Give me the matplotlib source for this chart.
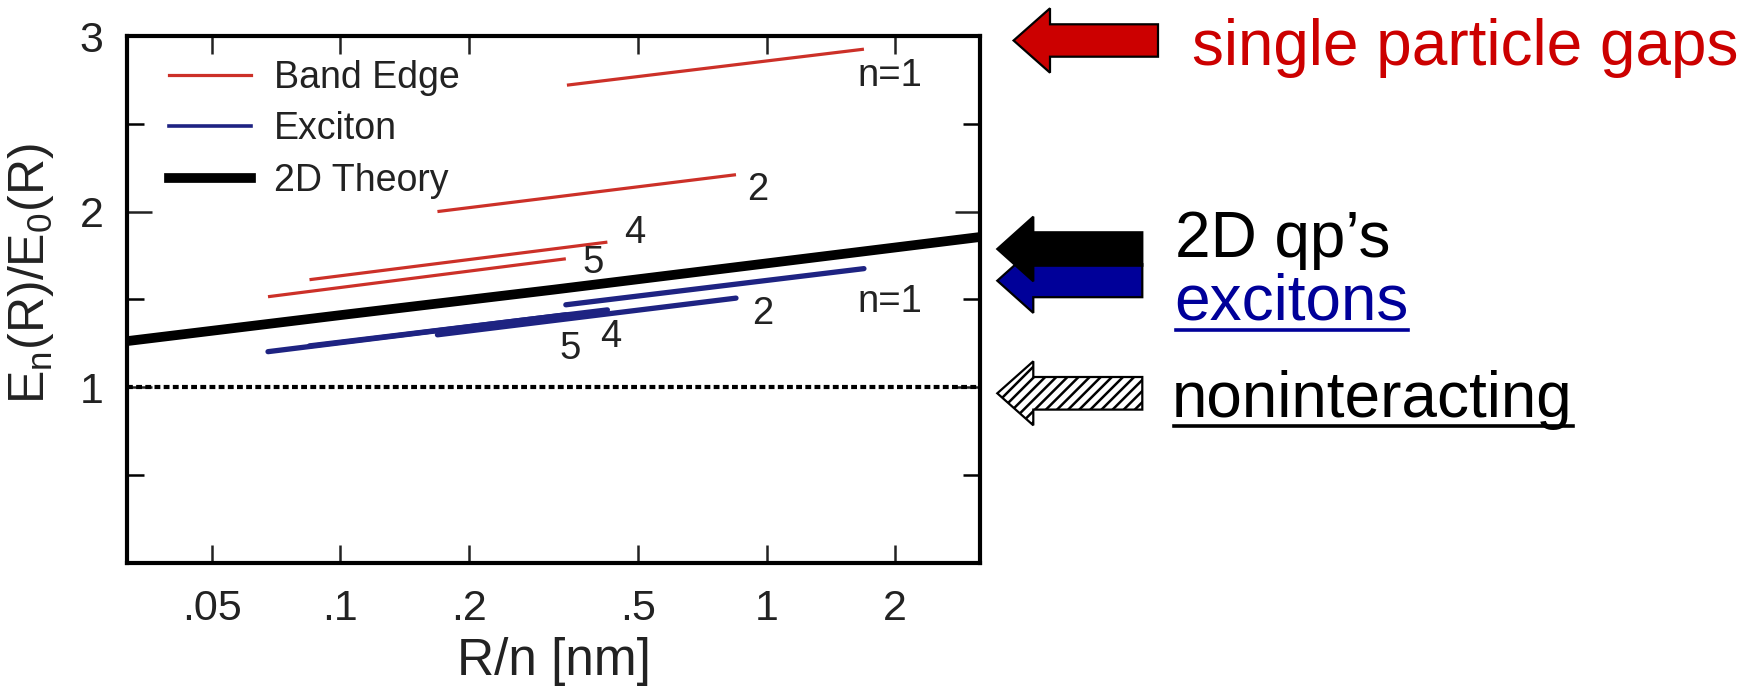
import matplotlib
matplotlib.use("Agg")
import matplotlib.pyplot as plt
from matplotlib.patches import Polygon
from matplotlib.lines import Line2D

plt.rcParams['font.family'] = ['Liberation Sans', 'DejaVu Sans']
plt.rcParams['hatch.linewidth'] = 1.8

# ---------------- data ----------------
band_n1_x = [0.34, 1.69];    band_n1_y = [2.72, 2.925]
band_n2_x = [0.169, 0.847];  band_n2_y = [2.00, 2.21]
band_n4_x = [0.0847, 0.423]; band_n4_y = [1.612, 1.826]
band_n5_x = [0.0677, 0.338]; band_n5_y = [1.515, 1.731]

exc_n1_x = [0.338, 1.69];    exc_n1_y = [1.469, 1.675]
exc_n2_x = [0.169, 0.847];   exc_n2_y = [1.298, 1.507]
exc_n4_x = [0.0847, 0.423];  exc_n4_y = [1.235, 1.44]
exc_n5_x = [0.0677, 0.338];  exc_n5_y = [1.202, 1.412]

theory_x = [0.0316, 0.1, 0.316, 1.0, 3.16]
theory_y = [1.262, 1.41, 1.555, 1.705, 1.855]

nonint_y = 1.0

xtick_vals = [0.05, 0.1, 0.2, 0.5, 1, 2]
xtick_labels = ['.05', '.1', '.2', '.5', '1', '2']
ytick_major = [1, 2, 3]
ytick_minor = [0, 0.5, 1.5, 2.5]

RED = '#cc3028'
BLUE = '#1e2382'
TXT = '#222222'

W, H = 1760, 694
fig = plt.figure(figsize=(W / 100, H / 100), dpi=100)
ax = fig.add_axes([127 / W, 1 - 562.7 / H, (980 - 127) / W, (562.7 - 36) / H])

ax.set_xscale('log')
ax.set_xlim(10 ** -1.5, 10 ** 0.5)
ax.set_ylim(0, 3)

# lines
for xs, ys in [(band_n1_x, band_n1_y), (band_n2_x, band_n2_y),
               (band_n4_x, band_n4_y), (band_n5_x, band_n5_y)]:
    ax.plot(xs, ys, color=RED, lw=2.3, solid_capstyle='butt')
for xs, ys in [(exc_n5_x, exc_n5_y), (exc_n4_x, exc_n4_y),
               (exc_n2_x, exc_n2_y), (exc_n1_x, exc_n1_y)]:
    ax.plot(xs, ys, color=BLUE, lw=3.8, solid_capstyle='round')
ax.plot(theory_x, theory_y, color='black', lw=7, solid_capstyle='butt')
ax.axhline(nonint_y, color='black', lw=3, dashes=(1.4, 0.8))

# labels next to line ends (offsets in pixels)
lab_fs = 27.5
def lab(txt, x, y, dx, dy):
    ax.annotate(txt, (x, y), xytext=(dx, dy), textcoords='offset pixels',
                ha='center', va='center', fontsize=lab_fs, color=TXT)

lab('n=1', band_n1_x[-1], band_n1_y[-1], 26, -27)
lab('2', band_n2_x[-1], band_n2_y[-1], 22, -15)
lab('4', band_n4_x[-1], band_n4_y[-1], 27, 9)
lab('5', band_n5_x[-1], band_n5_y[-1], 27, -4)
lab('n=1', exc_n1_x[-1], exc_n1_y[-1], 26, -33)
lab('2', exc_n2_x[-1], exc_n2_y[-1], 27, -16)
lab('4', exc_n4_x[-1], exc_n4_y[-1], 3, -27)
lab('5', exc_n5_x[-1], exc_n5_y[-1], 4, -34)

# axes styling
for s in ax.spines.values():
    s.set_linewidth(3)
ax.set_xticks(xtick_vals)
ax.set_xticklabels(xtick_labels)
ax.xaxis.set_minor_locator(matplotlib.ticker.NullLocator())
ax.set_yticks(ytick_major)
ax.set_yticks(ytick_minor, minor=True)
ax.set_yticklabels([str(v) for v in ytick_major])
ax.tick_params(axis='x', which='major', direction='in', length=13, width=1.8,
               top=True, labelsize=31, pad=19, colors=TXT)
ax.tick_params(axis='y', which='major', direction='in', length=18, width=1.8,
               right=True, labelsize=31, pad=17, colors=TXT)
ax.tick_params(axis='y', which='minor', direction='in', length=12, width=1.8,
               right=True)

ax.set_xlabel('R/n [nm]', fontsize=37, color=TXT)
ax.xaxis.set_label_coords(0.5, -0.142)
ax.set_ylabel(r'$\mathregular{E_n(R)/E_0(R)}$', fontsize=36, color=TXT)
ax.yaxis.set_label_coords(-0.083, 0.548)

handles = [Line2D([], [], color=RED, lw=2.3),
           Line2D([], [], color=BLUE, lw=2.6),
           Line2D([], [], color='black', lw=7)]
ax.legend(handles, ['Band Edge', 'Exciton', '2D Theory'], loc='upper left',
          bbox_to_anchor=(0.049, 0.955), frameon=False, fontsize=27,
          handlelength=2.2, handletextpad=0.6, labelspacing=0.42,
          borderpad=0, borderaxespad=0, labelcolor=TXT)

# ---------------- right-hand annotations ----------------
def fx(x):
    return x / W
def fy(y):
    return 1 - y / H

def arrow(tip_x, cy, head_back, head_half, body_half, right_x, **kw):
    pts = [(tip_x, cy), (head_back, cy - head_half), (head_back, cy - body_half),
           (right_x, cy - body_half), (right_x, cy + body_half),
           (head_back, cy + body_half), (head_back, cy + head_half)]
    poly = Polygon([(fx(a), fy(b)) for a, b in pts], closed=True,
                   transform=fig.transFigure, lw=1.6, joinstyle='miter', **kw)
    fig.add_artist(poly)

arrow(1013.6, 40.5, 1050, 32.2, 16.2, 1158, facecolor='#cc0000', edgecolor='black')
arrow(997.3, 280.7, 1033.3, 32.2, 16.5, 1142.3, facecolor='#000099', edgecolor='black')
arrow(997.3, 249, 1033.3, 32.3, 16.7, 1142.3, facecolor='black', edgecolor='black')
arrow(997.3, 393.3, 1033.3, 32.0, 16.3, 1142.3, facecolor='white', edgecolor='black',
      hatch='///')

big = 46
fig.text(fx(1192), fy(65), 'single particle gaps', fontsize=big, color='#cc0000',
         va='baseline', ha='left')
fig.text(fx(1175), fy(256.7), '2D qp\u2019s', fontsize=big, color='black',
         va='baseline', ha='left')
t_exc = fig.text(fx(1174), fy(320), 'excitons', fontsize=big, color='#000099',
                 va='baseline', ha='left')
t_non = fig.text(fx(1172), fy(416.7), 'noninteracting', fontsize=big, color='black',
                 va='baseline', ha='left')

fig.canvas.draw()
r = fig.canvas.get_renderer()
for t, yy, col in [(t_exc, 330, '#000099'), (t_non, 426, 'black')]:
    bb = t.get_window_extent(r)
    fig.add_artist(Line2D([bb.x0 / W + 2 / W, bb.x1 / W], [fy(yy), fy(yy)],
                          transform=fig.transFigure, color=col, lw=2.6))

fig.savefig('out.png', dpi=100)
